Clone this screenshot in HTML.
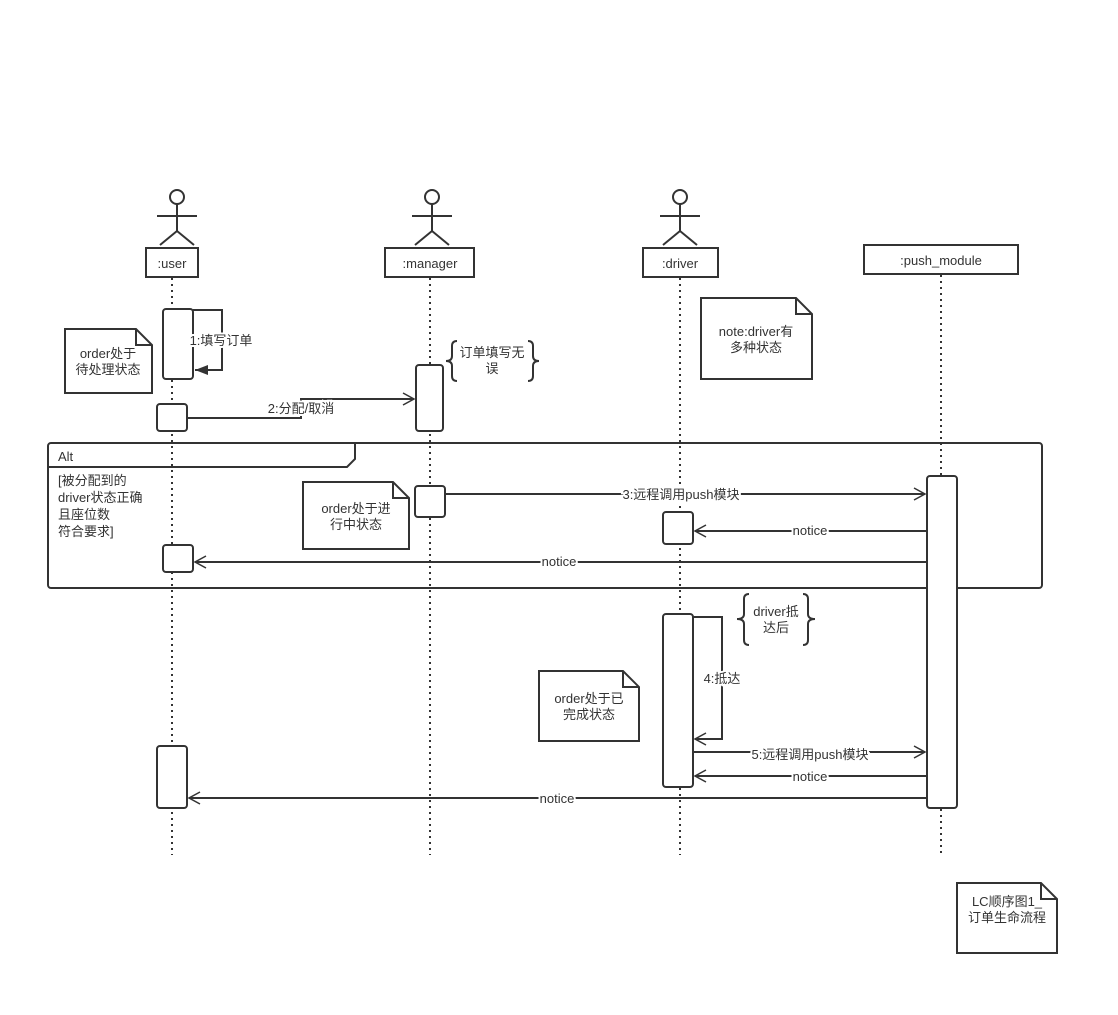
<!DOCTYPE html>
<html><head><meta charset="utf-8"><style>
html,body{margin:0;padding:0;background:#fff;}
svg{display:block;font-family:"Liberation Sans","Noto Sans CJK SC",sans-serif;font-size:13px;}
</style></head><body>
<svg width="1118" height="1015" viewBox="0 0 1118 1015" xmlns="http://www.w3.org/2000/svg">
<defs>
<marker id="open" markerWidth="14" markerHeight="14" refX="12" refY="7" orient="auto" markerUnits="userSpaceOnUse"><path d="M1,1 L12,7 L1,13" fill="none" stroke="#333" stroke-width="1.5"/></marker>
<marker id="fill" markerWidth="16" markerHeight="12" refX="14" refY="6" orient="auto" markerUnits="userSpaceOnUse"><path d="M1,1 L14,6 L1,11 Z" fill="#333"/></marker>
</defs>
<g stroke="#333" stroke-width="2" fill="none" stroke-dasharray="2,4">
<line x1="172" y1="278" x2="172" y2="855"/>
<line x1="430" y1="278" x2="430" y2="855"/>
<line x1="680" y1="278" x2="680" y2="855"/>
<line x1="941" y1="275" x2="941" y2="855"/>
</g>
<g stroke="#333" stroke-width="2" fill="none">
<g><circle cx="177" cy="197" r="7"/><line x1="177" y1="204" x2="177" y2="231"/><line x1="157" y1="216" x2="197" y2="216"/><line x1="177" y1="231" x2="160" y2="245"/><line x1="177" y1="231" x2="194" y2="245"/></g>
<g><circle cx="432" cy="197" r="7"/><line x1="432" y1="204" x2="432" y2="231"/><line x1="412" y1="216" x2="452" y2="216"/><line x1="432" y1="231" x2="415" y2="245"/><line x1="432" y1="231" x2="449" y2="245"/></g>
<g><circle cx="680" cy="197" r="7"/><line x1="680" y1="204" x2="680" y2="231"/><line x1="660" y1="216" x2="700" y2="216"/><line x1="680" y1="231" x2="663" y2="245"/><line x1="680" y1="231" x2="697" y2="245"/></g>
<rect x="146" y="248" width="52" height="29" fill="#fff"/>
<rect x="385" y="248" width="89" height="29" fill="#fff"/>
<rect x="643" y="248" width="75" height="29" fill="#fff"/>
<rect x="864" y="245" width="154" height="29" fill="#fff"/>
<rect x="48" y="443" width="994" height="145" rx="3"/>
<path d="M48,467 L347,467 L355,459 L355,443"/>
<rect x="163" y="309" width="30" height="70" rx="3" fill="#fff"/>
<rect x="157" y="404" width="30" height="27" rx="3" fill="#fff"/>
<rect x="416" y="365" width="27" height="66" rx="3" fill="#fff"/>
<rect x="415" y="486" width="30" height="31" rx="3" fill="#fff"/>
<rect x="163" y="545" width="30" height="27" rx="3" fill="#fff"/>
<rect x="663" y="512" width="30" height="32" rx="3" fill="#fff"/>
<rect x="927" y="476" width="30" height="332" rx="3" fill="#fff"/>
<rect x="663" y="614" width="30" height="173" rx="3" fill="#fff"/>
<rect x="157" y="746" width="30" height="62" rx="3" fill="#fff"/>
<path d="M193,310 L222,310 L222,370 L195,370" marker-end="url(#fill)"/>
<path d="M187,418 L301,418 L301,399 L414,399" marker-end="url(#open)"/>
<line x1="445" y1="494" x2="925" y2="494" marker-end="url(#open)"/>
<line x1="927" y1="531" x2="695" y2="531" marker-end="url(#open)"/>
<line x1="927" y1="562" x2="195" y2="562" marker-end="url(#open)"/>
<path d="M693,617 L722,617 L722,739 L695,739" marker-end="url(#open)"/>
<line x1="693" y1="752" x2="925" y2="752" marker-end="url(#open)"/>
<line x1="927" y1="776" x2="695" y2="776" marker-end="url(#open)"/>
<line x1="927" y1="798" x2="189" y2="798" marker-end="url(#open)"/>
<path d="M65,329 L136,329 L152,345 L152,393 L65,393 Z M136,329 L136,345 L152,345" fill="#fff"/>
<path d="M701,298 L796,298 L812,314 L812,379 L701,379 Z M796,298 L796,314 L812,314" fill="#fff"/>
<path d="M303,482 L393,482 L409,498 L409,549 L303,549 Z M393,482 L393,498 L409,498" fill="#fff"/>
<path d="M539,671 L623,671 L639,687 L639,741 L539,741 Z M623,671 L623,687 L639,687" fill="#fff"/>
<path d="M957,883 L1041,883 L1057,899 L1057,953 L957,953 Z M1041,883 L1041,899 L1057,899" fill="#fff"/>
<path d="M457,341 Q452,341 452,346 L452,356 Q452,361 446,361 Q452,361 452,366 L452,376 Q452,381 457,381"/>
<path d="M528,341 Q533,341 533,346 L533,356 Q533,361 539,361 Q533,361 533,366 L533,376 Q533,381 528,381"/>
<path d="M749,594 Q744,594 744,599 L744,614 Q744,619 737,619 Q744,619 744,624 L744,640 Q744,645 749,645"/>
<path d="M803,594 Q808,594 808,599 L808,614 Q808,619 815,619 Q808,619 808,624 L808,640 Q808,645 803,645"/>
</g>
<g fill="#333" text-anchor="middle">
<text x="172" y="268">:user</text>
<text x="430" y="268">:manager</text>
<text x="680" y="268">:driver</text>
<text x="941" y="265">:push_module</text>
<text x="108" y="358">order处于</text>
<text x="108" y="374">待处理状态</text>
<text x="756" y="336">note:driver有</text>
<text x="756" y="352">多种状态</text>
<text x="492" y="357">订单填写无</text>
<text x="492" y="373">误</text>
<text x="356" y="513">order处于进</text>
<text x="356" y="529">行中状态</text>
<text x="776" y="616">driver抵</text>
<text x="776" y="632">达后</text>
<text x="589" y="703">order处于已</text>
<text x="589" y="719">完成状态</text>
<text x="1007" y="906">LC顺序图1_</text>
<text x="1007" y="922">订单生命流程</text>
</g>
<g fill="#333" text-anchor="middle" font-size="13">
<text x="221" y="345" style="paint-order:stroke" stroke="#fff" stroke-width="4">1:填写订单</text>
<text x="301" y="413" style="paint-order:stroke" stroke="#fff" stroke-width="4">2:分配/取消</text>
<text x="681" y="499" style="paint-order:stroke" stroke="#fff" stroke-width="4">3:远程调用push模块</text>
<text x="810" y="535" style="paint-order:stroke" stroke="#fff" stroke-width="4">notice</text>
<text x="559" y="566" style="paint-order:stroke" stroke="#fff" stroke-width="4">notice</text>
<text x="722" y="683" style="paint-order:stroke" stroke="#fff" stroke-width="4">4:抵达</text>
<text x="810" y="759" style="paint-order:stroke" stroke="#fff" stroke-width="4">5:远程调用push模块</text>
<text x="810" y="781" style="paint-order:stroke" stroke="#fff" stroke-width="4">notice</text>
<text x="557" y="803" style="paint-order:stroke" stroke="#fff" stroke-width="4">notice</text>
</g>
<g fill="#333">
<text x="58" y="461">Alt</text>
<text x="58" y="485">[被分配到的</text>
<text x="58" y="502">driver状态正确</text>
<text x="58" y="519">且座位数</text>
<text x="58" y="536">符合要求]</text>
</g>
</svg>
</body></html>
